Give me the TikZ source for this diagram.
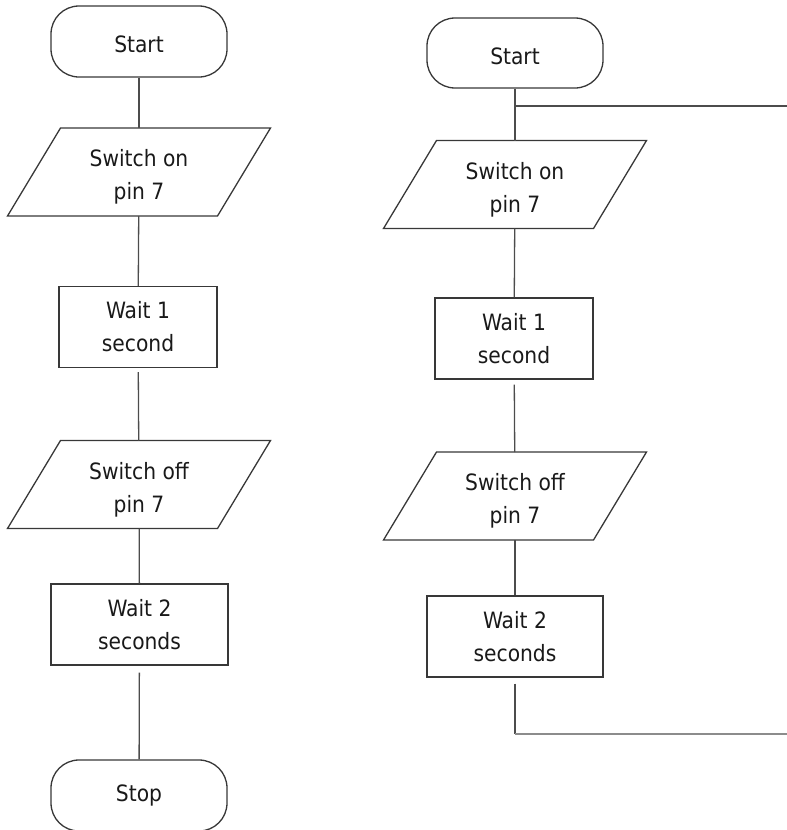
\documentclass[tikz,border=0pt]{standalone}
\usepackage{fontspec}
\setmainfont{DejaVu Sans Condensed}
\begin{document}
\begin{tikzpicture}[x=1pt,y=-1pt,
  boxline/.style={draw=black!78,line width=1.3pt},
  flowline/.style={draw=black!70,line width=1.3pt},
  label/.style={align=center,font=\fontsize{22.5}{33}\selectfont,text=black!90},
  terminal/.style={boxline,label,rectangle,rounded corners=28pt,minimum width=176pt,minimum height=71pt,inner sep=0pt},
  startlabel/.style={text height=22pt,text depth=0pt},
  process/.style={boxline,label,rectangle,minimum height=81pt,inner sep=0pt},
  inout/.style={label,rectangle,minimum width=157pt,minimum height=88pt,inner sep=0pt,outer sep=0pt,
    text height=60pt,text depth=4.6pt}
]
\useasboundingbox (0,0) rectangle (787,830);

% left chart: runs once
\node[terminal,startlabel] (L0) at (139,41.5) {Start};
\node[inout] (L1) at (139,172) {Switch on\\pin 7};
\node[process,minimum width=158pt] (L2) at (138,327) {Wait 1\\second};
\node[inout] (L3) at (139,484.5) {Switch off\\pin 7};
\node[process,minimum width=177pt] (L4) at (139.5,624.5) {Wait 2\\seconds};
\node[terminal] (L5) at (139,795.5) {Stop};

% right chart: repeats forever
\node[terminal,startlabel,minimum height=70pt] (R0) at (515,53) {Start};
\node[inout] (R1) at (515,184.5) {Switch on\\pin 7};
\node[process,minimum width=158pt] (R2) at (514,338.5) {Wait 1\\second};
\node[inout] (R3) at (515,496) {Switch off\\pin 7};
\node[process,minimum width=176pt] (R4) at (515,636.5) {Wait 2\\seconds};

% input/output parallelograms around the text boxes
\foreach \n in {L1,L3,R1,R3}
  \draw[boxline] ([xshift=-53pt]\n.south west) -- (\n.south east)
    -- ([xshift=53pt]\n.north east) -- (\n.north west) -- cycle;

% connectors
\draw[flowline] (L0) -- (L1);
\draw[flowline] (L1) -- (L2);
\draw[flowline,shorten <=4pt] (L2) -- (L3);
\draw[flowline] (L3) -- (L4);
\draw[flowline,shorten <=7pt] (L4) -- (L5);

\coordinate (rj) at (515,106);
\coordinate (rje) at (787,106);
\coordinate (rl) at (515,734);
\coordinate (rle) at (787,734);
\draw[flowline] (R0) -- (R1);
\draw[flowline] (rj) -- (rje);
\draw[flowline] (R1) -- (R2);
\draw[flowline,shorten <=5pt] (R2) -- (R3);
\draw[flowline] (R3) -- (R4);
\draw[flowline,shorten <=6pt] (R4) -- (rl);
\draw[draw=black!45,line width=1.1pt] (rl) -- (rle);
\end{tikzpicture}
\end{document}
